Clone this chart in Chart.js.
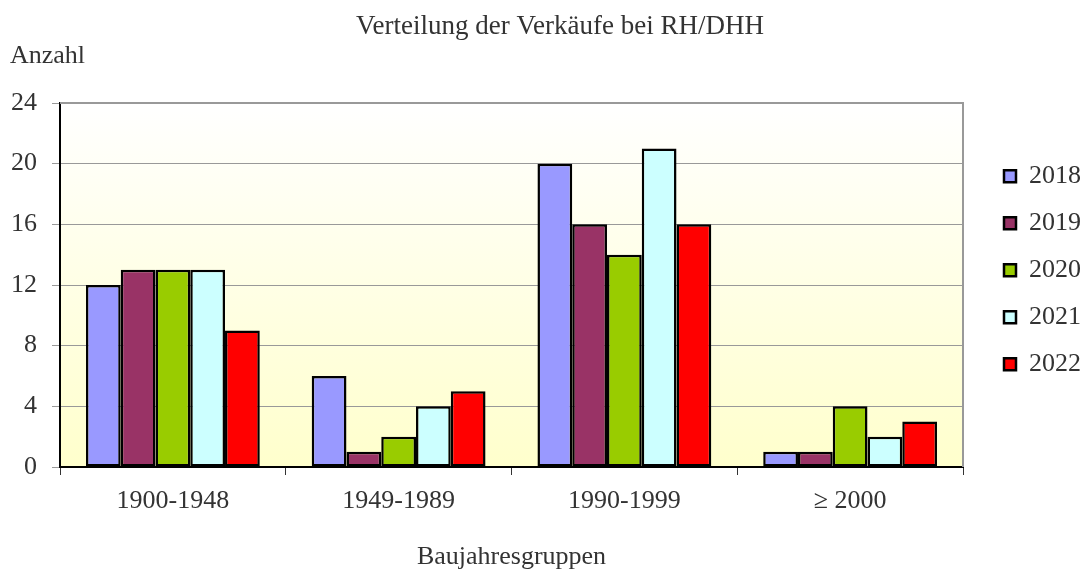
<!DOCTYPE html>
<html lang="de">
<head>
    <meta charset="UTF-8">
    <title>Verteilung der Verkäufe bei RH/DHH</title>
    <script src="https://cdn.jsdelivr.net/npm/chart.js"></script>
    <style>
        body {
            margin: 0;
            padding: 0;
            background: #fff;
        }
        #box {
            width: 1085px;
            height: 574px;
        }
    </style>
</head>
<body>

<div id="box"><canvas id="verkaeufe"></canvas></div>

<script>
// Daten aus dem Diagramm
const kategorien = ['1900-1948', '1949-1989', '1990-1999', '\u2265 2000'];
const jahre = ['2018', '2019', '2020', '2021', '2022'];
const werte2018 = [12, 6, 20, 1];
const werte2019 = [13, 1, 16, 1];
const werte2020 = [13, 2, 14, 4];
const werte2021 = [13, 4, 21, 2];
const werte2022 = [9, 5, 16, 3];
const farben = ['#9999FF', '#993366', '#99CC00', '#CCFFFF', '#FF0000'];
const yTicks = [0, 4, 8, 12, 16, 20, 24];

const schrift = "'Liberation Serif', 'Times New Roman', serif";
const textFarbe = '#333333';

// Hintergrund mit Verlauf + grauer Rahmen oben/rechts + Texte
const rahmenPlugin = {
    id: 'rahmen',
    afterLayout(chart) {
        // Legende etwas weiter nach rechts schieben
        const lg = chart.legend;
        if (lg) {
            lg.left += 20;
            lg.right += 20;
        }
    },
    beforeDraw(chart) {
        const a = chart.chartArea;
        const ctx = chart.ctx;
        const g = ctx.createLinearGradient(0, a.top, 0, a.bottom);
        g.addColorStop(0, '#FFFFFF');
        g.addColorStop(1, '#FFFFCC');
        ctx.save();
        ctx.fillStyle = g;
        ctx.fillRect(a.left, a.top, a.right - a.left, a.bottom - a.top);
        ctx.restore();
    },
    afterDraw(chart) {
        const a = chart.chartArea;
        const ctx = chart.ctx;
        ctx.save();
        ctx.strokeStyle = '#999999';
        ctx.lineWidth = 2;
        ctx.beginPath();
        ctx.moveTo(a.left, a.top);
        ctx.lineTo(a.right, a.top);
        ctx.lineTo(a.right, a.bottom);
        ctx.stroke();

        ctx.fillStyle = textFarbe;
        ctx.textBaseline = 'middle';
        ctx.textAlign = 'center';
        ctx.font = '27px ' + schrift;
        ctx.fillText('Verteilung der Verkäufe bei RH/DHH', 560, 27);
        ctx.textAlign = 'left';
        ctx.font = '26px ' + schrift;
        ctx.fillText('Anzahl', 10, 56);
        ctx.restore();
    }
};

const alleWerte = [werte2018, werte2019, werte2020, werte2021, werte2022];
const datasets = jahre.map((j, i) => ({
    label: j,
    data: alleWerte[i],
    backgroundColor: farben[i],
    borderColor: '#000000',
    borderWidth: 2.5,
    borderSkipped: false,
    categoryPercentage: 0.77,
    barPercentage: 1.0
}));

new Chart(document.getElementById('verkaeufe'), {
    type: 'bar',
    data: {
        labels: kategorien,
        datasets: datasets
    },
    plugins: [rahmenPlugin],
    options: {
        responsive: true,
        maintainAspectRatio: false,
        animation: false,
        layout: {
            padding: { top: 103, left: 10, right: 14, bottom: 0 }
        },
        plugins: {
            legend: {
                position: 'right',
                align: 'start',
                title: {
                    display: true,
                    text: '',
                    padding: { top: 38, bottom: 0 },
                    font: { size: 1 }
                },
                labels: {
                    boxWidth: 12,
                    boxHeight: 12,
                    padding: 21,
                    color: textFarbe,
                    font: { family: schrift, size: 26 }
                }
            },
            tooltip: { enabled: false }
        },
        scales: {
            x: {
                grid: {
                    offset: true,
                    drawOnChartArea: false,
                    color: '#333333',
                    tickLength: 8
                },
                border: { color: '#000000', width: 2 },
                ticks: {
                    color: textFarbe,
                    padding: 11,
                    font: { family: schrift, size: 26 }
                },
                title: {
                    display: true,
                    text: 'Baujahresgruppen',
                    color: textFarbe,
                    padding: { top: 0, bottom: 1 },
                    font: { family: schrift, size: 26 }
                },
                afterFit(scale) {
                    scale.height = 107;
                }
            },
            y: {
                min: 0,
                max: 24,
                afterBuildTicks(scale) {
                    scale.ticks = yTicks.map(v => ({ value: v }));
                },
                grid: {
                    color: '#999999',
                    lineWidth: 1,
                    tickLength: 8
                },
                border: { color: '#000000', width: 2 },
                ticks: {
                    color: textFarbe,
                    padding: 15,
                    font: { family: schrift, size: 26 }
                },
                afterFit(scale) {
                    scale.width = 50;
                }
            }
        }
    }
});
</script>
</body>
</html>
